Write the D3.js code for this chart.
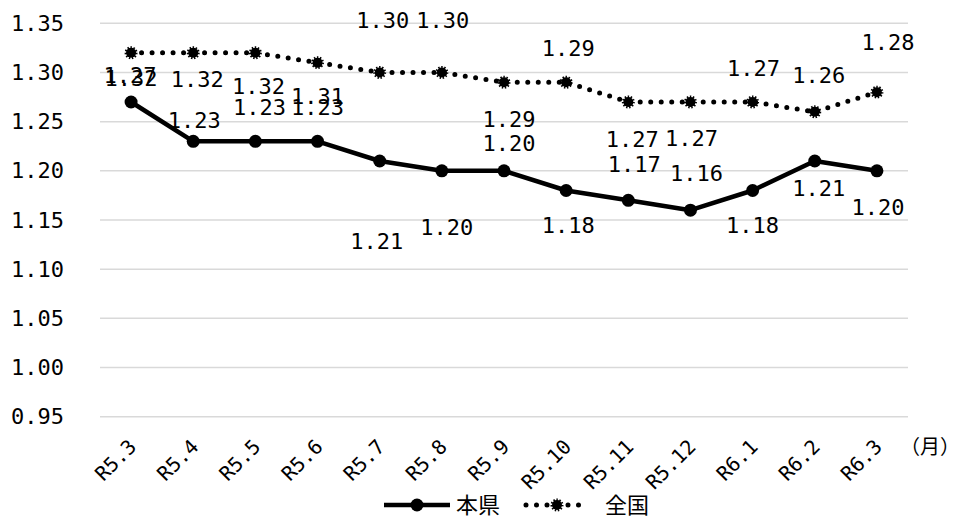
<!DOCTYPE html>
<html><head><meta charset="utf-8">
<script src="https://cdn.jsdelivr.net/npm/d3@7"></script>
<style>
body{margin:0;background:#fff;}
svg{display:block;}
</style></head>
<body>
<svg id="chart" width="960" height="519"></svg>
<script>
const categories = ["R5.3","R5.4","R5.5","R5.6","R5.7","R5.8","R5.9","R5.10","R5.11","R5.12","R6.1","R6.2","R6.3"];
const honken = [1.27,1.23,1.23,1.23,1.21,1.20,1.20,1.18,1.17,1.16,1.18,1.21,1.20];
const zenkoku = [1.32,1.32,1.32,1.31,1.30,1.30,1.29,1.29,1.27,1.27,1.27,1.26,1.28];
const yTicks = [0.95,1.00,1.05,1.10,1.15,1.20,1.25,1.30,1.35];
const seriesNames = ["本県","全国"];
const unitLabel = "（月）";

// label placement (pixel offsets from each point, as in the source chart)
const honkenLabelDx = [-1,1,4,0,-3,5,5,2,6,6,0,4,1];
const honkenLabelDy = [-27,-21,-34,-34,80,56,-28,35,-36,-37,35,27,36];
const zenkokuLabelDx = [0,4,3,0,3,1,5,2,4,1,1,4,11];
const zenkokuLabelDy = [25,26,33,34,-52,-52,37,-34,37,36,-34,-37,-50];

const svg = d3.select("#chart");
const numFont = "'DejaVu Sans Mono', 'Liberation Mono', monospace";
const cjkFont = "'Noto Sans CJK JP', 'Noto Sans', sans-serif";

const x = d3.scalePoint().domain(categories).range([100, 908]).padding(0.5);
const y = d3.scaleLinear().domain([0.95, 1.35]).range([416.7, 23.3]);

// gridlines
svg.append("g").selectAll("line").data(yTicks).join("line")
  .attr("x1", 100).attr("x2", 908)
  .attr("y1", d => y(d)).attr("y2", d => y(d))
  .attr("stroke", "#d9d9d9").attr("stroke-width", 1.5);

// y axis labels
const yAxis = d3.axisLeft(y).tickValues(yTicks).tickFormat(d3.format(".2f")).tickSize(0).tickPadding(0);
const yg = svg.append("g").attr("transform", "translate(64,0)").call(yAxis);
yg.select(".domain").remove();
yg.selectAll("text").attr("font-family", numFont).attr("font-size", 22).attr("fill", "#000");

// x axis labels (rotated -45°)
const xAxis = d3.axisBottom(x).tickSize(0).tickPadding(0);
const xg = svg.append("g").attr("transform", "translate(0,443)").call(xAxis);
xg.select(".domain").remove();
xg.selectAll(".tick text")
  .attr("font-family", numFont).attr("font-size", 20).attr("fill", "#000")
  .attr("text-anchor", "end").attr("x", 0).attr("y", 0).attr("dy", "0.35em")
  .attr("transform", "translate(1,0) rotate(-45)");

svg.append("text").attr("x", 930).attr("y", 447).attr("dy", "0.35em")
  .attr("text-anchor", "middle").attr("font-family", cjkFont).attr("font-size", 20)
  .text(unitLabel);

const line = d3.line().x((d, i) => x(categories[i])).y(d => y(d));

// 全国 (dotted)
svg.append("path").datum(zenkoku).attr("d", line)
  .attr("fill", "none").attr("stroke", "#000").attr("stroke-width", 5)
  .attr("stroke-linecap", "round").attr("stroke-dasharray", "0 10.5");
svg.append("g").selectAll("circle").data(zenkoku).join("circle")
  .attr("cx", (d, i) => x(categories[i])).attr("cy", d => y(d)).attr("r", 5)
  .attr("fill", "#000").attr("stroke", "#000").attr("stroke-width", 3)
  .attr("stroke-dasharray", "1.3 1.5");

// 本県 (solid)
svg.append("path").datum(honken).attr("d", line)
  .attr("fill", "none").attr("stroke", "#000").attr("stroke-width", 4.5)
  .attr("stroke-linejoin", "round");
svg.append("g").selectAll("circle").data(honken).join("circle")
  .attr("cx", (d, i) => x(categories[i])).attr("cy", d => y(d)).attr("r", 6.5)
  .attr("fill", "#000");

// data labels
const fmt = d3.format(".2f");
function labels(data, dxs, dys) {
  svg.append("g").selectAll("text").data(data).join("text")
    .attr("x", (d, i) => x(categories[i]) + dxs[i])
    .attr("y", (d, i) => y(d) + dys[i])
    .attr("dy", "0.35em").attr("text-anchor", "middle")
    .attr("font-family", numFont).attr("font-size", 22).attr("fill", "#000")
    .text(d => fmt(d));
}
labels(honken, honkenLabelDx, honkenLabelDy);
labels(zenkoku, zenkokuLabelDx, zenkokuLabelDy);

// legend
const lg = svg.append("g").attr("transform", "translate(0,505)");
lg.append("line").attr("x1", 384).attr("x2", 450).attr("y1", 0).attr("y2", 0)
  .attr("stroke", "#000").attr("stroke-width", 4.5);
lg.append("circle").attr("cx", 417).attr("cy", 0).attr("r", 6.5).attr("fill", "#000");
lg.append("text").attr("x", 456).attr("y", 0).attr("dy", "0.35em")
  .attr("font-family", cjkFont).attr("font-size", 22).text(seriesNames[0]);
lg.append("line").attr("x1", 526).attr("x2", 589).attr("y1", 0).attr("y2", 0)
  .attr("stroke", "#000").attr("stroke-width", 5).attr("stroke-linecap", "round")
  .attr("stroke-dasharray", "0 10.5");
lg.append("circle").attr("cx", 557).attr("cy", 0).attr("r", 5)
  .attr("fill", "#000").attr("stroke", "#000").attr("stroke-width", 3).attr("stroke-dasharray", "1.3 1.5");
lg.append("text").attr("x", 605).attr("y", 0).attr("dy", "0.35em")
  .attr("font-family", cjkFont).attr("font-size", 22).text(seriesNames[1]);
</script>
</body></html>
